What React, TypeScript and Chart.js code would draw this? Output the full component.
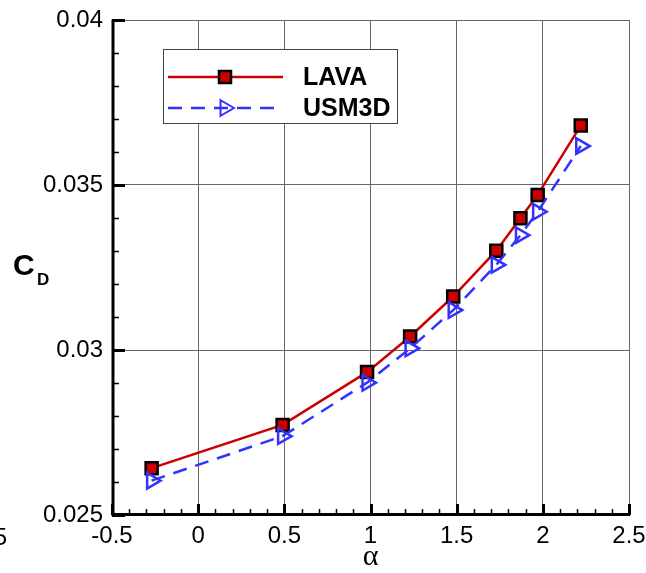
import React, { useEffect, useRef } from 'react';
import { Chart, registerables } from 'chart.js';

Chart.register(...registerables);

// ---- data ----
const alpha = [-0.27, 0.49, 0.98, 1.23, 1.48, 1.73, 1.87, 1.97, 2.22];
const cdLAVA = [0.02642, 0.02773, 0.02933, 0.03041, 0.03162, 0.03301, 0.03399, 0.0347, 0.0368];
const cdUSM3D = [0.02604, 0.02739, 0.02901, 0.03005, 0.03121, 0.03258, 0.03348, 0.03419, 0.03618];
const xTicks = [-0.5, 0, 0.5, 1, 1.5, 2, 2.5];
const yTicks = [0.025, 0.03, 0.035, 0.04];
const seriesNames = ['LAVA', 'USM3D'];
const xTitle = 'α';

const FONT = '"Liberation Sans", Arial, Helvetica, sans-serif';
const SERIF = '"Liberation Serif", "Times New Roman", serif';
const RED = '#cc0000';
const BLUE = '#3333ff';
const GRID = '#666666';

const decorPlugin = {
  id: 'decor',
  afterDraw(chart: any) {
    const { ctx, chartArea, scales } = chart;
    const { left, right, top, bottom } = chartArea;
    const xs = scales.x;
    const ys = scales.y;
    ctx.save();

    // minor ticks
    ctx.strokeStyle = '#000';
    ctx.lineWidth = 1.5;
    ctx.beginPath();
    for (let i = 0; i <= 30; i++) {
      if (i % 5 === 0) continue;
      const v = -0.5 + i * 0.1;
      const px = Math.round(xs.getPixelForValue(v)) + 0.5;
      ctx.moveTo(px, bottom);
      ctx.lineTo(px, bottom - 6);
    }
    for (let i = 0; i <= 15; i++) {
      if (i % 5 === 0) continue;
      const v = 0.025 + i * 0.001;
      const py = Math.round(ys.getPixelForValue(v)) + 0.5;
      ctx.moveTo(left, py);
      ctx.lineTo(left + 7, py);
    }
    ctx.stroke();

    // major ticks
    ctx.lineWidth = 3;
    ctx.beginPath();
    xTicks.forEach((v) => {
      const px = Math.round(xs.getPixelForValue(v)) + 0.5;
      ctx.moveTo(px, bottom);
      ctx.lineTo(px, bottom - 11);
    });
    yTicks.forEach((v) => {
      const py = Math.round(ys.getPixelForValue(v)) + 0.5;
      ctx.moveTo(left, py);
      ctx.lineTo(left + 13, py);
    });
    ctx.stroke();

    // axis lines (left & bottom, thick)
    ctx.lineWidth = 3;
    ctx.beginPath();
    ctx.moveTo(left + 1, top - 0.5);
    ctx.lineTo(left + 1, bottom - 0.5);
    ctx.lineTo(right + 1, bottom - 0.5);
    ctx.stroke();

    // legend box
    const bx = 163, by = 49, bw = 234, bh = 74;
    ctx.fillStyle = '#fff';
    ctx.fillRect(bx, by, bw, bh);
    ctx.strokeStyle = '#444';
    ctx.lineWidth = 1;
    ctx.strokeRect(bx + 0.5, by + 0.5, bw, bh);

    const ds = chart.data.datasets;
    const rows = [77, 108];
    rows.forEach((ry, i) => {
      const d = ds[i];
      ctx.strokeStyle = d.borderColor;
      ctx.lineWidth = d.borderWidth;
      ctx.setLineDash(d.borderDash || []);
      ctx.beginPath();
      ctx.moveTo(168, ry);
      ctx.lineTo(283, ry);
      ctx.stroke();
      ctx.setLineDash([]);
      const mx = 225;
      if (i === 0) {
        const s = 12;
        ctx.fillStyle = RED;
        ctx.fillRect(mx - s / 2, ry - s / 2, s, s);
        ctx.strokeStyle = '#000';
        ctx.lineWidth = 2.5;
        ctx.strokeRect(mx - s / 2, ry - s / 2, s, s);
      } else {
        const r = 9;
        ctx.strokeStyle = BLUE;
        ctx.lineWidth = 2;
        ctx.beginPath();
        ctx.moveTo(mx + r, ry);
        ctx.lineTo(mx - r / 2, ry - r * 0.866);
        ctx.lineTo(mx - r / 2, ry + r * 0.866);
        ctx.closePath();
        ctx.stroke();
      }
      ctx.fillStyle = '#000';
      ctx.font = `bold 25px ${FONT}`;
      ctx.textAlign = 'left';
      ctx.textBaseline = 'middle';
      ctx.fillText(d.label, 303, ry + 1);
    });

    // y axis title C_D
    ctx.fillStyle = '#000';
    ctx.textAlign = 'left';
    ctx.textBaseline = 'alphabetic';
    ctx.font = `bold 30px ${FONT}`;
    ctx.fillText('C', 13, 275);
    ctx.font = `bold 17px ${FONT}`;
    ctx.fillText('D', 37, 285);

    // clipped label of neighbouring panel
    ctx.font = `24px ${FONT}`;
    ctx.textAlign = 'right';
    ctx.fillText('2.5', 7, 545);

    ctx.restore();
  },
};

export default function App() {
  const ref = useRef<HTMLCanvasElement | null>(null);

  useEffect(() => {
    document.body.style.margin = '0';
    const canvas = ref.current;
    if (!canvas) return;
    const chart = new Chart(canvas, {
      type: 'line',
      data: {
        datasets: [
          {
            label: seriesNames[0],
            data: alpha.map((a, i) => ({ x: a, y: cdLAVA[i] })),
            borderColor: RED,
            borderWidth: 2.5,
            pointStyle: 'rect',
            pointRadius: 8.5,
            pointBackgroundColor: RED,
            pointBorderColor: '#000',
            pointBorderWidth: 2.5,
            tension: 0,
            order: 1,
          },
          {
            label: seriesNames[1],
            data: alpha.map((a, i) => ({ x: a, y: cdUSM3D[i] })),
            borderColor: BLUE,
            borderWidth: 2.5,
            borderDash: [14, 9],
            pointStyle: 'triangle',
            pointRotation: 90,
            pointRadius: 9,
            pointBackgroundColor: 'rgba(0,0,0,0)',
            pointBorderColor: BLUE,
            pointBorderWidth: 2.5,
            tension: 0,
            order: 0,
          },
        ],
      } as any,
      options: {
        responsive: false,
        animation: false,
        devicePixelRatio: 1,
        layout: { padding: { top: 20, right: 17, left: 0, bottom: 0 } },
        plugins: { legend: { display: false }, tooltip: { enabled: false } },
        scales: {
          x: {
            type: 'linear',
            min: -0.5,
            max: 2.5,
            afterBuildTicks: (s: any) => {
              s.ticks = xTicks.map((v) => ({ value: v }));
            },
            afterFit: (s: any) => {
              s.height = 58;
              s.paddingLeft = 0;
              s.paddingRight = 0;
            },
            grid: { color: GRID, lineWidth: 1, drawTicks: false },
            border: { display: false },
            ticks: {
              color: '#000',
              font: { family: FONT, size: 24 },
              padding: 7,
              maxRotation: 0,
              autoSkip: false,
              callback: (v: any) => String(v),
            },
            title: {
              display: true,
              text: xTitle,
              color: '#000',
              font: { family: SERIF, size: 30, lineHeight: 1 },
              padding: { top: 0, bottom: 1 },
            },
          },
          y: {
            type: 'linear',
            min: 0.025,
            max: 0.04,
            afterBuildTicks: (s: any) => {
              s.ticks = yTicks.map((v) => ({ value: v }));
            },
            afterFit: (s: any) => {
              s.width = 112;
              s.paddingTop = 0;
              s.paddingBottom = 0;
            },
            grid: { color: GRID, lineWidth: 1, drawTicks: false },
            border: { display: false },
            ticks: {
              color: '#000',
              font: { family: FONT, size: 24 },
              padding: 9,
              autoSkip: false,
              callback: (v: any) => String(v),
            },
          },
        },
      } as any,
      plugins: [decorPlugin],
    });
    return () => chart.destroy();
  }, []);

  return (
    <div style={{ width: 646, height: 573 }}>
      <canvas ref={ref} width={646} height={573} />
    </div>
  );
}
